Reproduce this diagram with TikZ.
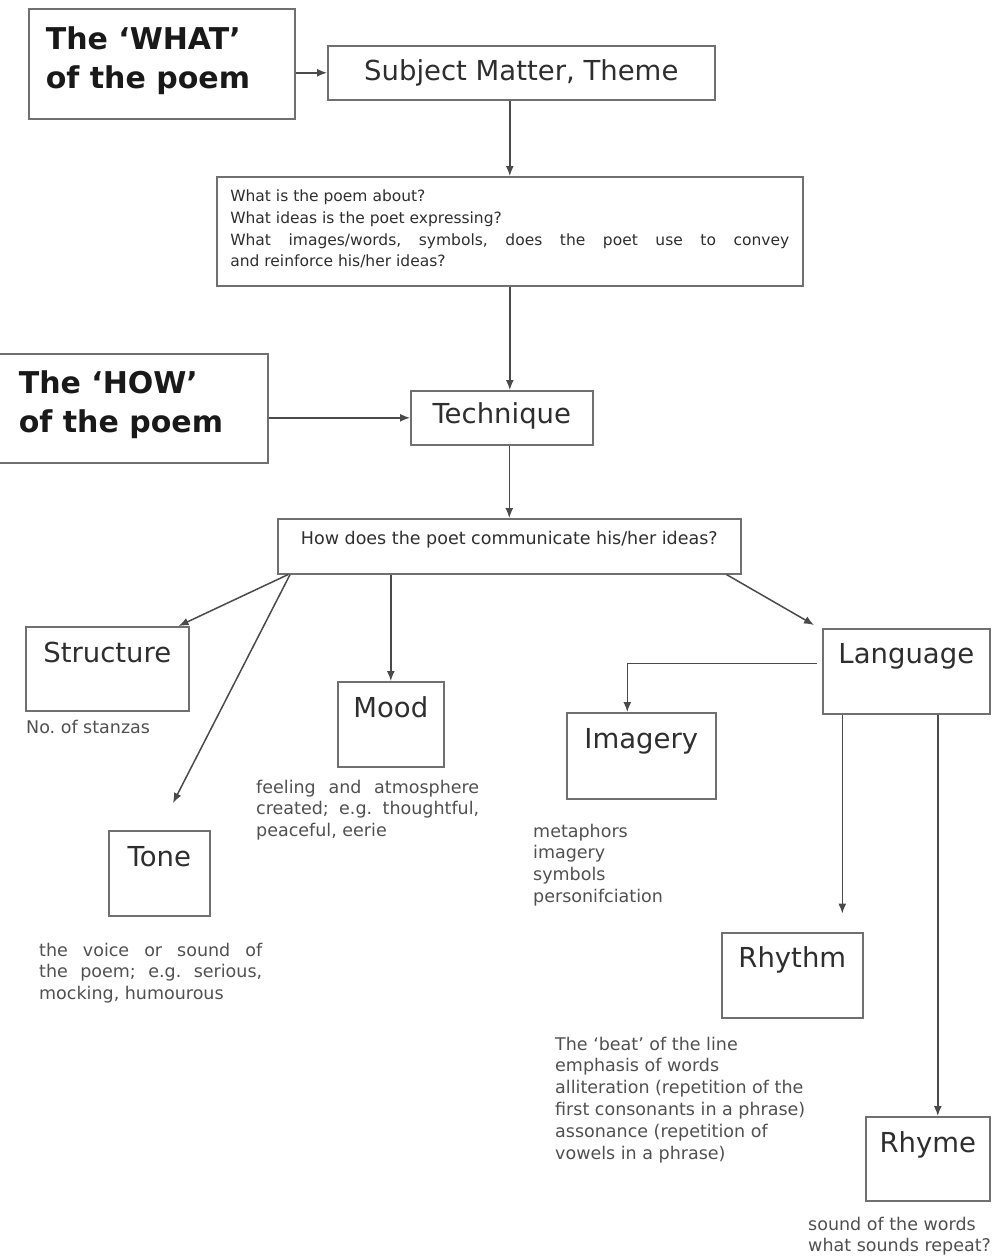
\documentclass[tikz,border=0pt]{standalone}
\usepackage{fontspec}
\setmainfont{DejaVu Sans}
\usetikzlibrary{arrows.meta}

\definecolor{linegray}{HTML}{4A4A4A}
\definecolor{boxgray}{HTML}{707070}
\definecolor{inkgray}{HTML}{2E2E2E}
\definecolor{notegray}{HTML}{505050}
\newcommand\bigfont{\fontsize{30}{39}\selectfont\bfseries}
\newcommand\lblfont{\fontsize{27.5}{30}\selectfont}
\newcommand\askfont{\fontsize{15.5}{21.7}\selectfont}
\newcommand\howfont{\fontsize{17.5}{21}\selectfont}
\newcommand\notefont{\fontsize{17.5}{21.8}\selectfont}
\frenchspacing

\begin{document}
\begin{tikzpicture}[x=1pt,y=-1pt]
				\tikzstyle{box}=[draw=boxgray,line width=1.6pt,inner sep=0pt,anchor=north west,text=inkgray]
				\tikzstyle{lbl}=[box,font=\lblfont,text height=36pt,text depth=49pt]
				\tikzstyle{note}=[anchor=base west,inner sep=0pt,font=\notefont,text=notegray]
				\tikzstyle{arr}=[draw=linegray,line width=1.5pt,-{Latex[length=10pt,width=8pt]}]
				\useasboundingbox (0,0) rectangle (997,1256);
				\clip (0,0) rectangle (997,1256);
				% what and how
				\node[box,font=\bigfont,text=black!90,minimum width=266pt,text height=41pt,text depth=69pt] (what) at (28,8)
					{\begin{tabular}[t]{@{}p{232pt}@{}}The `WHAT'\\of the poem\end{tabular}};
				\node[box,font=\lblfont,minimum width=387pt,text height=35pt,text depth=19pt] (subject) at (327,45) {Subject Matter, Theme};
				\node[box,font=\askfont,minimum width=586pt,text height=25pt,text depth=84pt] (question) at (216,176)
					{\begin{tabular}[t]{@{}l@{}}What is the poem about?\\What ideas is the poet expressing?\\
					\makebox[559pt][s]{What images/words, symbols, does the poet use to convey}\\and reinforce his/her ideas?\end{tabular}};
				\node[box,font=\bigfont,text=black!90,minimum width=277pt,text height=40pt,text depth=69pt] (how) at (-10,353)
					{\begin{tabular}[t]{@{}p{221pt}@{}}The `HOW'\\of the poem\end{tabular}};
				\node[box,font=\lblfont,minimum width=182pt,text height=33pt,text depth=21pt] (technique) at (410,390) {Technique};
				\node[box,font=\howfont,minimum width=463pt,text height=26pt,text depth=29pt] (hq) at (277,518) {How does the poet communicate his/her ideas?};
				% the parts
				\node[lbl,minimum width=163pt,text depth=48pt] (structure) at (25,626) {Structure};
				\node[lbl,minimum width=106pt] (mood) at (337,681) {Mood};
				\node[lbl,minimum width=101pt] (tone) at (108,830) {Tone};
				\node[lbl,minimum width=167pt,text height=35pt,text depth=50pt] (language) at (822,628) {Language};
				\node[lbl,minimum width=149pt,text depth=50pt] (imagery) at (566,712) {Imagery};
				\node[lbl,minimum width=141pt,text height=35pt,text depth=50pt] (rhythm) at (721,932) {Rhythm};
				\node[lbl,minimum width=124pt,text depth=48pt] (rhyme) at (865,1116) {Rhyme};
				% notes
				\node[note] (stanzas) at (26,733) {No. of stanzas};
				\node[note] (moodnote) at (256,793) {\begin{tabular}[t]{@{}l@{}}\makebox[223pt][s]{feeling and atmosphere}\\
					\makebox[223pt][s]{created; e.g. thoughtful,}\\peaceful, eerie\end{tabular}};
				\node[note] (tonenote) at (39,956) {\begin{tabular}[t]{@{}l@{}}\makebox[223pt][s]{the voice or sound of}\\
					\makebox[223pt][s]{the poem; e.g. serious,}\\mocking, humourous\end{tabular}};
				\node[note] (imagerynote) at (533,837) {\begin{tabular}[t]{@{}l@{}}metaphors\\imagery\\symbols\\personifciation\end{tabular}};
				\node[note] (rhythmnote) at (555,1050) {\begin{tabular}[t]{@{}l@{}}The `beat' of the line\\emphasis of words\\
					alliteration (repetition of the\\first consonants in a phrase)\\assonance (repetition of\\vowels in a phrase)\end{tabular}};
				\node[note] (rhymenote) at (808,1230) {\begin{tabular}[t]{@{}l@{}}sound of the words\\what sounds repeat?\end{tabular}};
				% arrows
				\coordinate (tonetip) at (173,803);
				\draw[arr] (what.east |- subject.west) -- (subject.west);
				\draw[arr] (subject.south -| question.north) -- (question.north);
				\draw[arr] (question.south) -- (technique.north -| question.south);
				\draw[arr] (how.east |- technique.west) -- (technique.west);
				\draw[arr] (technique.south -| hq.north) -- (hq.north);
				\draw[arr] ([xshift=11pt]hq.south west) -- ([xshift=-11pt]structure.north east);
				\draw[arr] ([xshift=13pt]hq.south west) -- (tonetip);
				\draw[arr] (hq.south -| mood.north) -- (mood.north);
				\draw[arr] ([xshift=-15pt]hq.south east) -- ([shift={(-8,-3)}]language.north west);
				\draw[arr] ([shift={(-5,-8)}]language.west) -| ([xshift=-14pt]imagery.north);
				\draw[arr] ([xshift=-64pt]language.south) -- ++(0,199) coordinate (rhythmtip);
				\draw[arr] ([xshift=10pt]rhyme.north |- language.south) -- ([xshift=10pt]rhyme.north);
\end{tikzpicture}
\end{document}
